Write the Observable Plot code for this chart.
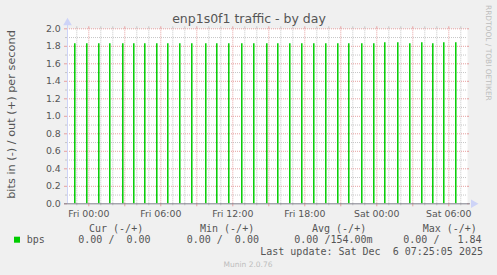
<!DOCTYPE html>
<html><head><meta charset="utf-8">
<script src="https://cdn.jsdelivr.net/npm/d3@7"></script>
<script src="https://cdn.jsdelivr.net/npm/@observablehq/plot@0.6"></script>
<style>
html,body{margin:0;padding:0;background:#f0f0f0;}
svg{display:block}
</style></head><body><div id="chart"></div>
<script>
// ---- data ----
const title = "enp1s0f1 traffic - by day";
const yLabel = "bits in (-) / out (+) per second";
const sideText = "RRDTOOL / TOBI OETIKER";
const spikeTimes = [
  "2025-12-04T22:50Z","2025-12-04T23:50Z","2025-12-05T00:50Z","2025-12-05T01:45Z",
  "2025-12-05T02:50Z","2025-12-05T03:45Z","2025-12-05T04:40Z","2025-12-05T05:40Z",
  "2025-12-05T06:35Z","2025-12-05T07:35Z","2025-12-05T08:35Z","2025-12-05T09:45Z",
  "2025-12-05T10:40Z","2025-12-05T11:40Z","2025-12-05T12:45Z","2025-12-05T13:45Z",
  "2025-12-05T14:50Z","2025-12-05T15:45Z","2025-12-05T16:45Z","2025-12-05T17:45Z",
  "2025-12-05T18:45Z","2025-12-05T19:45Z","2025-12-05T20:45Z","2025-12-05T21:40Z",
  "2025-12-05T22:45Z","2025-12-05T23:45Z","2025-12-06T00:40Z","2025-12-06T01:45Z",
  "2025-12-06T02:45Z","2025-12-06T03:45Z","2025-12-06T04:40Z","2025-12-06T05:35Z",
  "2025-12-06T06:35Z"
];
const spikeValues = [
  1.83,1.83,1.83,1.83,1.83,1.83,1.83,1.83,
  1.83,1.83,1.83,1.83,1.83,1.83,1.83,1.83,
  1.83,1.83,1.83,1.83,1.83,1.83,1.83,1.83,
  1.83,1.83,1.84,1.84,1.83,1.84,1.83,1.84,
  1.84
];
const yTicks = [0,0.2,0.4,0.6,0.8,1.0,1.2,1.4,1.6,1.8,2.0];
const yMinorTicks = [0.1,0.3,0.5,0.7,0.9,1.1,1.3,1.5,1.7,1.9];
const xStart = "2025-12-04T22:13:30Z";
const xEnd = "2025-12-06T07:33:30Z";
const seriesName = "bps";
const legendHeaders = ["Cur (-/+)","Min (-/+)","Avg (-/+)","Max (-/+)"];
const legendValues = ["0.00 /  0.00","0.00 /  0.00","0.00 /154.00m","0.00 /   1.84"];
const lastUpdate = "Last update: Sat Dec  6 07:25:05 2025";
const footer = "Munin 2.0.76";

// ---- derived ----
const parse = d3.utcParse("%Y-%m-%dT%H:%MZ");
const data = spikeTimes.map((t, i) => ({t: parse(t), v: spikeValues[i]}));
const x0 = new Date(xStart), x1 = new Date(xEnd);
const hours = d3.utcHour.range(d3.utcHour.ceil(x0), x1);
const major = hours.filter(d => d.getUTCHours() % 3 === 0);
const minor = hours.filter(d => d.getUTCHours() % 3 !== 0);
const labelled = hours.filter(d => d.getUTCHours() % 6 === 0);

const RED = "#e6a0a0", GRAY = "#c6c6c6", GREEN = "#00cc00", TXT = "#555", BLUE = "#cdd3f7";

const plot = Plot.plot({
  width: 497, height: 275,
  marginLeft: 67, marginRight: 30, marginTop: 28.3, marginBottom: 71.7,
  style: {background: "transparent", fontFamily: "DejaVu Sans", fontSize: "9.4px", color: TXT},
  x: {type: "utc", domain: [x0, x1]},
  y: {domain: [0, 2]},
  marks: [
    Plot.frame({fill: "white", stroke: "none"}),
    // dashed grid
    Plot.gridX(minor, {stroke: GRAY, strokeOpacity: 1, strokeDasharray: "1,1"}),
    Plot.gridY(yMinorTicks, {stroke: GRAY, strokeOpacity: 1, strokeDasharray: "1,1"}),
    Plot.gridX(major, {stroke: RED, strokeOpacity: 1, strokeDasharray: "1,1"}),
    Plot.gridY(yTicks.slice(1), {stroke: RED, strokeOpacity: 1, strokeDasharray: "1,1"}),
    // small solid ticks outside plot
    Plot.ruleX(minor, {y1: 2, y2: 2, insetTop: -2, stroke: GRAY}),
    Plot.ruleX(major, {y1: 2, y2: 2, insetTop: -2, stroke: RED}),
    Plot.ruleX(minor, {y1: 0, y2: 0, insetBottom: -2, stroke: GRAY}),
    Plot.ruleX(major, {y1: 0, y2: 0, insetBottom: -3, stroke: RED}),
    Plot.ruleY(yTicks, {x1: x0, x2: x0, insetLeft: -3, stroke: RED}),
    Plot.ruleY(yMinorTicks, {x1: x0, x2: x0, insetLeft: -2, stroke: GRAY}),
    Plot.ruleY(yTicks, {x1: x1, x2: x1, insetRight: -2, stroke: RED}),
    // data spikes
    Plot.ruleX(data, {x: "t", y1: 0, y2: "v", stroke: GREEN, strokeWidth: 1.5}),
    // axes lines & arrows
    Plot.ruleX([x0], {stroke: BLUE, insetTop: -4}),
    Plot.ruleY([0], {stroke: "#80808c", insetLeft: -3, insetRight: -3}),
    Plot.dot([null], {frameAnchor: "top-left", symbol: "triangle", r: 3.2, fill: BLUE, stroke: "none", dy: -6}),
    Plot.dot([null], {frameAnchor: "bottom-right", symbol: "triangle", r: 3.2, fill: BLUE, stroke: "none", rotate: 90, dx: 6}),
    // axis labels
    Plot.axisX({ticks: labelled, tickFormat: d3.utcFormat("%a %H:%M"), tickSize: 0, tickPadding: 7, fill: TXT, label: null, fontSize: 9.4}),
    Plot.axisY({ticks: yTicks, tickFormat: d3.format(".1f"), tickSize: 0, tickPadding: 6.7, fill: TXT, label: null, fontSize: 9.4})
  ]
});

const svg = d3.select(plot);
svg.append("text").attr("x", 249).attr("y", 23).attr("text-anchor", "middle")
  .attr("font-family", "DejaVu Sans").attr("font-size", 12.5).attr("fill", TXT).text(title);
svg.append("text").attr("transform", "translate(15,114.5) rotate(-90)").attr("text-anchor", "middle")
  .attr("font-family", "DejaVu Sans").attr("font-size", 11.3).attr("fill", TXT).text(yLabel);
svg.append("text").attr("transform", "translate(485.5,5) rotate(90)").attr("text-anchor", "start")
  .attr("font-family", "DejaVu Sans").attr("font-size", 7.45).attr("fill", "#bdbdbd").text(sideText);

const mono = (x, y, s, anchor = "start") => svg.append("text").attr("x", x).attr("y", y)
  .attr("text-anchor", anchor).attr("font-family", "DejaVu Sans Mono").attr("font-size", 10)
  .attr("fill", TXT).attr("xml:space", "preserve").style("white-space", "pre").text(s);

const headerX = [89, 200, 312, 422.7];
const valueX = [78.3, 186.7, 294.3, 403.3];
legendHeaders.forEach((h, i) => mono(headerX[i], 231.5, h));
legendValues.forEach((v, i) => mono(valueX[i], 243, v));
svg.append("rect").attr("x", 14).attr("y", 236.7).attr("width", 6).attr("height", 6).attr("fill", GREEN);
mono(26.7, 243, seriesName);
mono(483, 255, lastUpdate, "end");
svg.append("text").attr("x", 248).attr("y", 267.3).attr("text-anchor", "middle")
  .attr("font-family", "DejaVu Sans").attr("font-size", 7.5).attr("fill", "#bdbdbd").text(footer);

document.getElementById("chart").appendChild(plot);
</script>
</body></html>
